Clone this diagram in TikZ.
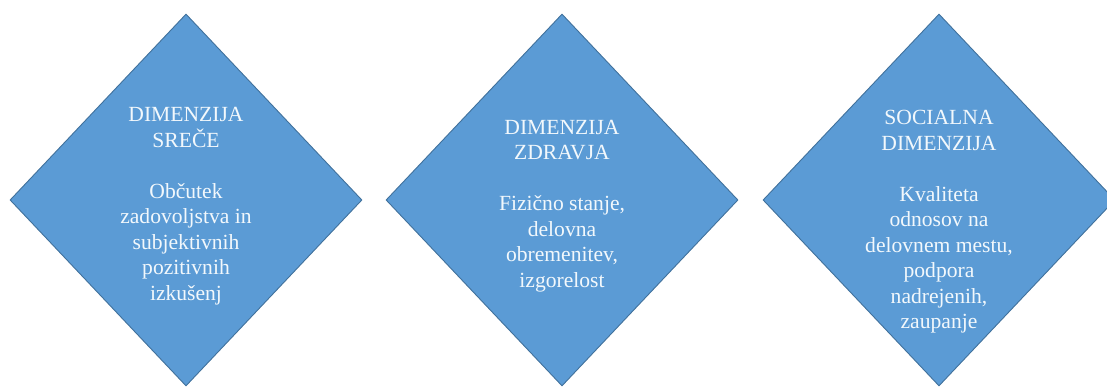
\documentclass[tikz,border=0pt]{standalone}
\usepackage{fontspec}
\setmainfont{Liberation Serif}
\usetikzlibrary{shapes.geometric}
\definecolor{dfill}{HTML}{5B9BD5}
\definecolor{dline}{HTML}{41719C}
\definecolor{dtext}{HTML}{F2F8FC}
\begin{document}
\begin{tikzpicture}[x=1pt,y=1pt,
  dia/.style={diamond,draw=dline,fill=dfill,line width=0.9pt,inner sep=0pt,
    minimum width=352pt,minimum height=372pt},
  txt/.style={align=center,text=dtext,inner sep=0pt,
    font=\fontsize{21.6}{25.5}\selectfont}]
\useasboundingbox (0,0) rectangle (1107,387);
\begin{scope}
\clip (0,0) rectangle (1107,387);
\node[dia] (d1) at (186,187) {};
\node[dia] (d2) at (562,187) {};
\node[dia] (d3) at (939,187) {};
\end{scope}
\node[txt] (t1) at (186,181) {DIMENZIJA\\SREČE\\[25.5pt]Občutek\\zadovoljstva in\\subjektivnih\\pozitivnih\\izkušenj};
\node[txt] (t2) at (562,181) {DIMENZIJA\\ZDRAVJA\\[25.5pt]Fizično stanje,\\delovna\\obremenitev,\\izgorelost};
\node[txt] (t3) at (939,165) {SOCIALNA\\DIMENZIJA\\[25.5pt]Kvaliteta\\odnosov na\\delovnem mestu,\\podpora\\nadrejenih,\\zaupanje};
\end{tikzpicture}
\end{document}
